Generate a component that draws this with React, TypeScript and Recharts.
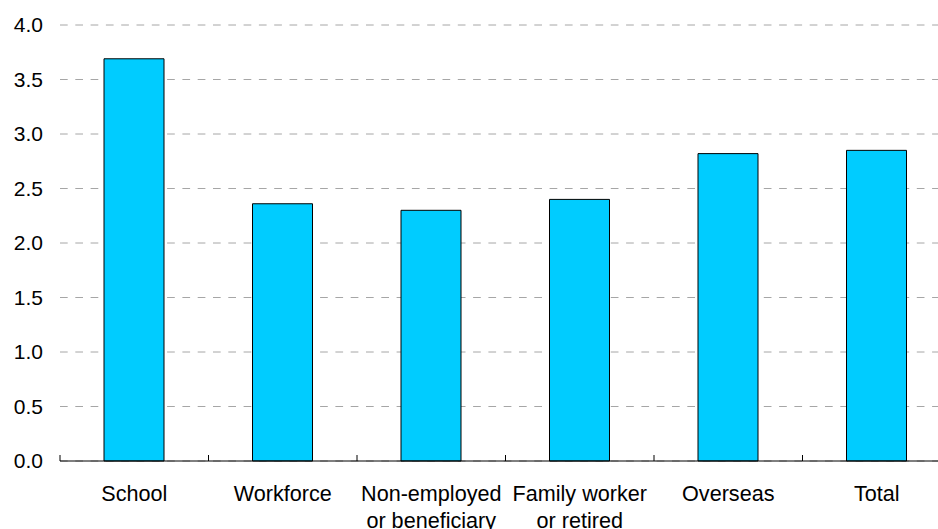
import React from 'react';
import { BarChart, Bar, XAxis, YAxis, CartesianGrid } from 'recharts';

const categories = ['School', 'Workforce', 'Non-employed\nor beneficiary', 'Family worker\nor retired', 'Overseas', 'Total'];
const values = [3.69, 2.36, 2.3, 2.4, 2.82, 2.85];
const yTicks = [0, 0.5, 1, 1.5, 2, 2.5, 3, 3.5, 4];

const data = categories.map((name, i) => ({ name, value: values[i] }));

const FONT = '"Liberation Sans", Arial, sans-serif';
const TICK_SIZE = 6;
const TICK_MARGIN = 0;

const CategoryTick = (props: any) => {
  const { x, y, payload } = props;
  const axisY = y - TICK_SIZE - TICK_MARGIN;
  const left = x - (payload.offset || 0);
  const lines = String(payload.value).split('\n');
  return (
    <g>
      <line x1={left} y1={axisY} x2={left} y2={axisY - 6} stroke="#000" strokeWidth={1} />
      {lines.map((l, i) => (
        <text
          key={i}
          x={x}
          y={axisY + 40 + i * 27}
          textAnchor="middle"
          fontSize={21.6}
          fontFamily={FONT}
          fill="#000"
        >
          {l}
        </text>
      ))}
    </g>
  );
};

const App = () => {
  return (
    <div style={{ position: 'absolute', left: 0, top: 0, width: 938, height: 529, overflow: 'hidden', background: '#fff' }}>
      <BarChart
        width={960}
        height={529}
        data={data}
        margin={{ top: 25, right: 9, left: 0, bottom: 0 }}
      >
        <CartesianGrid
          vertical={false}
          stroke="#a6a6a6"
          strokeDasharray="7.7 7.6"
        />
        <XAxis
          dataKey="name"
          interval={0}
          height={68}
          tickLine={false}
          tickSize={TICK_SIZE}
          tickMargin={TICK_MARGIN}
          axisLine={{ stroke: '#000', strokeWidth: 1 }}
          tick={<CategoryTick />}
        />
        <YAxis
          width={60}
          domain={[0, 4]}
          ticks={yTicks}
          axisLine={false}
          tickLine={false}
          tickSize={8}
          tickMargin={9}
          tickFormatter={(v: number) => v.toFixed(1)}
          tick={{ fontSize: 21, fontFamily: FONT, fill: '#000' }}
        />
        <Bar
          dataKey="value"
          fill="#00CCFF"
          stroke="#000"
          strokeWidth={1}
          barSize={60}
          isAnimationActive={false}
        />
      </BarChart>
    </div>
  );
};

export default App;
